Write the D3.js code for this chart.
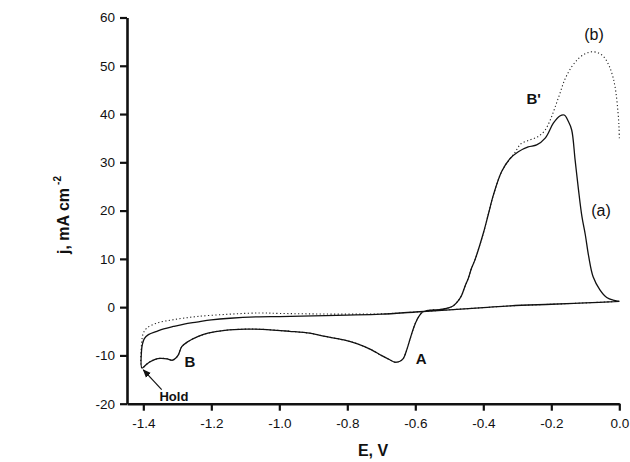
<!DOCTYPE html>
<html>
<head>
<meta charset="utf-8">
<script src="https://cdn.jsdelivr.net/npm/d3@7"></script>
<style>
  html, body { margin: 0; padding: 0; background: #fff; }
  svg { display: block; font-family: "Liberation Sans", Arial, sans-serif; }
</style>
</head>
<body>
<svg id="chart" width="630" height="462"></svg>
<script>
// ---------------- DATA ----------------
const xTicks = [-1.4, -1.2, -1.0, -0.8, -0.6, -0.4, -0.2, 0.0];
const yTicks = [-20, -10, 0, 10, 20, 30, 40, 50, 60];
const xDomain = [-1.448, 0.0];
const yDomain = [-20, 60];

// cathodic sweep (0.0 V -> -1.4 V, then hold), curve (a)
const cathodicA = [
  [0.0, 1.2], [-0.1, 0.88], [-0.2, 0.6], [-0.32, 0.27], [-0.4, -0.1],
  [-0.5, -0.55], [-0.6, -1.0], [-0.7, -1.45], [-0.8, -1.65], [-0.9, -1.8],
  [-1.0, -1.95], [-1.06, -2.0], [-1.145, -2.3], [-1.2, -2.65], [-1.243, -3.1],
  [-1.28, -3.5], [-1.312, -4.0], [-1.34, -4.5], [-1.36, -5.0], [-1.385, -5.7],
  [-1.397, -6.5], [-1.403, -7.8], [-1.405, -8.8], [-1.404, -12.6]
];
// cathodic sweep, curve (b)
const cathodicB = [
  [0.0, 1.2], [-0.1, 0.88], [-0.2, 0.6], [-0.32, 0.27], [-0.4, -0.1],
  [-0.5, -0.55], [-0.6, -1.0], [-0.7, -1.4], [-0.8, -1.45], [-0.9, -1.4],
  [-1.0, -1.3], [-1.057, -1.2], [-1.145, -1.45], [-1.243, -1.95], [-1.312, -2.6],
  [-1.36, -3.3], [-1.39, -4.35], [-1.4, -5.4], [-1.405, -7.45], [-1.404, -12.6]
];
// anodic sweep after the hold, shared by both curves
const anodicCommon = [
  [-1.39, -11.8], [-1.38, -11.3], [-1.365, -10.8], [-1.35, -10.6],
  [-1.33, -10.7], [-1.315, -11.0], [-1.305, -10.6], [-1.297, -9.9], [-1.287, -8.2],
  [-1.268, -7.1], [-1.24, -6.1], [-1.21, -5.4], [-1.16, -4.8], [-1.1, -4.55],
  [-1.05, -4.6], [-0.97, -5.0], [-0.91, -5.4], [-0.87, -6.0], [-0.81, -6.8],
  [-0.77, -7.6], [-0.73, -8.8], [-0.7, -10.0], [-0.675, -10.9], [-0.66, -11.4],
  [-0.645, -11.2], [-0.635, -10.6], [-0.625, -8.8], [-0.615, -6.5], [-0.605, -4.3],
  [-0.595, -2.6], [-0.58, -1.1], [-0.56, -0.65], [-0.53, -0.5], [-0.5, -0.1],
  [-0.488, 0.3], [-0.474, 1.3], [-0.464, 2.4], [-0.454, 4.3], [-0.444, 6.0],
  [-0.435, 8.0], [-0.424, 9.9], [-0.4, 15.3], [-0.385, 19.3], [-0.37, 23.3],
  [-0.346, 28.1], [-0.321, 30.8]
];
// anodic stripping region, curve (a)
const anodicTopA = [
  [-0.297, 32.2], [-0.268, 33.2], [-0.243, 33.6], [-0.218, 35.0], [-0.194, 38.1],
  [-0.175, 39.6], [-0.162, 39.8], [-0.15, 38.5], [-0.14, 36.7], [-0.13, 30.5],
  [-0.12, 24.3], [-0.11, 18.8], [-0.1, 15.0], [-0.09, 10.5], [-0.077, 6.3],
  [-0.057, 3.6], [-0.037, 2.0], [-0.015, 1.4], [0.0, 1.2]
];
// anodic stripping region, curve (b)
const anodicTopB = [
  [-0.307, 32.0], [-0.29, 33.8], [-0.265, 34.6], [-0.24, 35.3], [-0.22, 36.5],
  [-0.204, 38.6], [-0.19, 41.2], [-0.175, 44.2], [-0.16, 47.2], [-0.14, 49.8],
  [-0.12, 51.5], [-0.1, 52.5], [-0.08, 52.9], [-0.06, 52.6], [-0.045, 51.8],
  [-0.03, 50.0], [-0.018, 47.5], [-0.01, 44.5], [-0.004, 40.5], [-0.001, 37.5],
  [0.0, 35.0]
];

const curveA = cathodicA.concat(anodicCommon, anodicTopA);
const curveB = cathodicB.concat(anodicCommon, anodicTopB);

// annotations: [text, E, j, bold, size]
const labelTexts = ["(b)", "(a)", "B'", "A", "B", "Hold"];
const labelE = [-0.0745, -0.054, -0.252, -0.583, -1.263, -1.31];
const labelJ = [55.3, 18.9, 42.1, -11.7, -12.5, -19.5];
const labelBold = [false, false, true, true, true, true];
const labelSize = [16, 16, 15, 15, 15, 13];
const holdArrow = [[-1.346, -17.1], [-1.4, -12.98]];

// ---------------- LAYOUT ----------------
const svg = d3.select("#chart");
const margin = { left: 127, right: 10.7, top: 17.5, bottom: 58.3 };
const W = 630, H = 462;
const x = d3.scaleLinear().domain(xDomain).range([margin.left, W - margin.right]);
const y = d3.scaleLinear().domain(yDomain).range([H - margin.bottom, margin.top]);

const fmtX = d => d.toFixed(1).replace("\u2212", "-");
const fmtY = d => String(d);

const line = d3.line().x(d => x(d[0])).y(d => y(d[1])).curve(d3.curveCatmullRom.alpha(0.5));

// curves
svg.append("path").datum(curveB)
  .attr("d", line).attr("fill", "none").attr("stroke", "#222")
  .attr("stroke-width", 1.1).attr("stroke-dasharray", "1.2,2.4");
svg.append("path").datum(curveA)
  .attr("d", line).attr("fill", "none").attr("stroke", "#111")
  .attr("stroke-width", 1.3);

// axes
const xAxis = svg.append("g").attr("transform", `translate(0,${y(yDomain[0])})`)
  .call(d3.axisBottom(x).tickValues(xTicks).tickFormat(fmtX).tickSizeOuter(0).tickSizeInner(7).tickPadding(7.5));
const yAxis = svg.append("g").attr("transform", `translate(${x(xDomain[0])},0)`)
  .call(d3.axisLeft(y).tickValues(yTicks).tickFormat(fmtY).tickSizeOuter(0).tickSizeInner(7).tickPadding(5));

[xAxis, yAxis].forEach(g => {
  g.select(".domain").attr("stroke", "#111").attr("stroke-width", 2.6);
  g.selectAll(".tick line").attr("stroke", "#111").attr("stroke-width", 2.2);
  g.selectAll(".tick text").attr("fill", "#111").style("font-size", "13.5px")
    .style("font-family", "'Liberation Sans', Arial, sans-serif");
});

// axis titles
svg.append("text").attr("x", 373).attr("y", 456).attr("text-anchor", "middle")
  .style("font-size", "16px").style("font-weight", "bold").attr("fill", "#111").text("E, V");

const yt = svg.append("text")
  .attr("transform", `translate(69,${215}) rotate(-90)`)
  .attr("text-anchor", "middle")
  .style("font-size", "16px").style("font-weight", "bold").attr("fill", "#111");
yt.append("tspan").text("j, mA cm");
yt.append("tspan").attr("dx", 3).attr("dy", -8).style("font-size", "10px").text("-2");

// annotations
labelTexts.forEach((t, i) => {
  svg.append("text").attr("x", x(labelE[i])).attr("y", y(labelJ[i]))
    .attr("text-anchor", "middle")
    .style("font-size", labelSize[i] + "px")
    .style("font-weight", labelBold[i] ? "bold" : "normal")
    .attr("fill", "#111").text(t);
});

// hold arrow
svg.append("defs").append("marker").attr("id", "ah")
  .attr("viewBox", "0 0 10 10").attr("refX", 9).attr("refY", 5)
  .attr("markerWidth", 7).attr("markerHeight", 7).attr("orient", "auto")
  .append("path").attr("d", "M0,1 L10,5 L0,9 Z").attr("fill", "#111");
svg.append("line")
  .attr("x1", x(holdArrow[0][0])).attr("y1", y(holdArrow[0][1]))
  .attr("x2", x(holdArrow[1][0])).attr("y2", y(holdArrow[1][1]))
  .attr("stroke", "#111").attr("stroke-width", 1.2).attr("marker-end", "url(#ah)");
</script>
</body>
</html>
